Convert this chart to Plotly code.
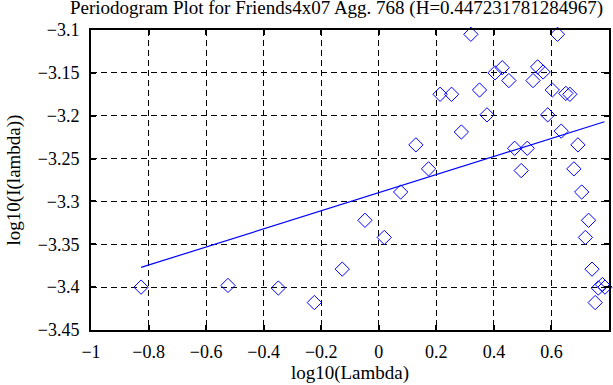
import plotly.graph_objects as go

log_lambda = [-0.826, -0.524, -0.349, -0.224, -0.127, -0.048, 0.019, 0.076, 0.129, 0.173,
              0.213, 0.253, 0.287, 0.320, 0.350, 0.376, 0.404, 0.429, 0.452, 0.472,
              0.495, 0.516, 0.536, 0.552, 0.571, 0.587, 0.603, 0.621, 0.634, 0.650,
              0.664, 0.678, 0.692, 0.705, 0.718, 0.729, 0.741, 0.752, 0.763, 0.777, 0.786]
log_I = [-3.400, -3.398, -3.401, -3.418, -3.379, -3.322, -3.342, -3.289, -3.234, -3.262,
         -3.175, -3.175, -3.219, -3.105, -3.170, -3.199, -3.150, -3.144, -3.159, -3.238,
         -3.264, -3.238, -3.159, -3.143, -3.149, -3.199, -3.170, -3.105, -3.218, -3.174,
         -3.175, -3.262, -3.234, -3.289, -3.342, -3.322, -3.379, -3.418, -3.401, -3.397, -3.400]

fit_x = [-0.826, 0.784]
fit_y = [-3.377, -3.207]

x_ticks = [-1, -0.8, -0.6, -0.4, -0.2, 0, 0.2, 0.4, 0.6, 0.8]
y_ticks = [-3.45, -3.4, -3.35, -3.3, -3.25, -3.2, -3.15, -3.1]

title_text = "Periodogram Plot for Friends4x07 Agg. 768 (H=0.447231781284967)"

font = "Liberation Serif"

fig = go.Figure()
fig.add_trace(go.Scatter(x=log_lambda, y=log_I, mode="markers",
                         marker=dict(symbol="diamond-open", size=11, color="#0000ff",
                                     line=dict(width=1, color="#0000ff")),
                         showlegend=False, cliponaxis=False))
fig.add_trace(go.Scatter(x=fit_x, y=fit_y, mode="lines",
                         line=dict(color="#0000ff", width=1.2), showlegend=False))

axis_common = dict(showline=True, linecolor="black", linewidth=2, mirror="ticks",
                   ticks="inside", ticklen=5, tickwidth=1.5, tickcolor="black",
                   showgrid=True, gridcolor="black", gridwidth=1, griddash="6px,4px",
                   zeroline=False, automargin=False,
                   tickfont=dict(family=font, size=18, color="black"))

fig.update_xaxes(range=[-1, 0.8], tickvals=x_ticks,
                 ticktext=[("\u2212" if v < 0 else "") + ("%g" % abs(v)) for v in x_ticks],
                 ticklabelstandoff=4,
                 title=dict(text="log10(Lambda)", font=dict(family=font, size=19, color="black"), standoff=0),
                 **axis_common)
fig.update_yaxes(range=[-3.45, -3.1], tickvals=y_ticks,
                 ticktext=["\u2212" + ("%g" % abs(v)) for v in y_ticks],
                 ticklabelstandoff=6,
                 title=dict(text="log10(I(lambda))", font=dict(family=font, size=19, color="black"), standoff=12),
                 **axis_common)

fig.update_layout(width=613, height=385, plot_bgcolor="white", paper_bgcolor="white",
                  margin=dict(l=91, r=4, t=30, b=55, autoexpand=False),
                  title=dict(text=title_text, x=70 / 613, xref="container", xanchor="left",
                             y=1 - 1 / 385, yref="container", yanchor="top", pad=dict(t=0, l=0),
                             font=dict(family=font, size=19, color="black")))

fig.write_html("out.html", config={"displayModeBar": False},
               post_script="document.body.style.margin='0';document.body.style.overflow='hidden';")
